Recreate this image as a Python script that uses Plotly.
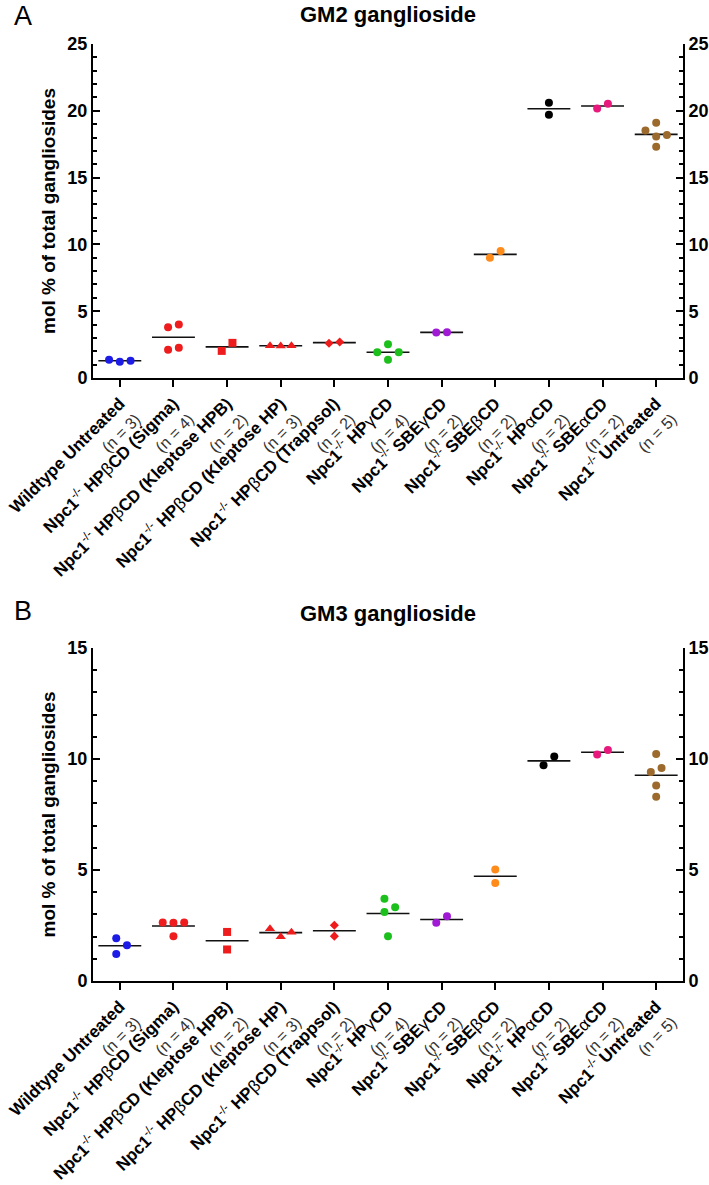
import math
import plotly.graph_objects as go

# ---------------- data ----------------
group_labels = [
    "<b>Wildtype Untreated</b>",
    "<b>Npc1</b><sup>-/-</sup> <b>HP</b>β<b>CD (Sigma)</b>",
    "<b>Npc1</b><sup>-/-</sup> <b>HP</b>β<b>CD (Kleptose HPB)</b>",
    "<b>Npc1</b><sup>-/-</sup> <b>HP</b>β<b>CD (Kleptose HP)</b>",
    "<b>Npc1</b><sup>-/-</sup> <b>HP</b>β<b>CD (Trappsol)</b>",
    "<b>Npc1</b><sup>-/-</sup> <b>HP</b>γ<b>CD</b>",
    "<b>Npc1</b><sup>-/-</sup> <b>SBE</b>γ<b>CD</b>",
    "<b>Npc1</b><sup>-/-</sup> <b>SBE</b>β<b>CD</b>",
    "<b>Npc1</b><sup>-/-</sup> <b>HP</b>α<b>CD</b>",
    "<b>Npc1</b><sup>-/-</sup> <b>SBE</b>α<b>CD</b>",
    "<b>Npc1</b><sup>-/-</sup> <b>Untreated</b>",
]

gm2_values = [
    [1.37, 1.22, 1.30],
    [4.00, 3.80, 2.12, 2.27],
    [2.03, 2.63],
    [2.40, 2.42, 2.42],
    [2.60, 2.70],
    [1.92, 2.52, 1.92, 1.37],
    [3.40, 3.43],
    [9.00, 9.50],
    [20.60, 19.70],
    [20.18, 20.53],
    [19.10, 18.53, 18.18, 18.08, 17.30],
]

gm3_values = [
    [1.93, 1.61, 1.22],
    [2.62, 2.64, 2.63, 2.02],
    [2.21, 1.42],
    [2.35, 1.99, 2.20],
    [2.51, 2.02],
    [3.71, 3.32, 3.11, 2.02],
    [2.62, 2.92],
    [5.02, 4.42],
    [9.72, 10.11],
    [10.20, 10.41],
    [10.22, 9.60, 9.42, 8.81, 8.30],
]

panel_titles = ["GM2 ganglioside", "GM3 ganglioside"]
y_title = "mol % of total gangliosides"
gm2_ticks = [0, 5, 10, 15, 20, 25]
gm3_ticks = [0, 5, 10, 15]

# ---------------- styles ----------------
colors = ["#1c1ce6", "#ee1c1c", "#ee1c1c", "#ee1c1c", "#ee1c1c", "#1cc01c",
          "#a01ad6", "#ff8c1a", "#000000", "#e8197d", "#9c6a2c"]
symbols = ["circle", "circle", "square", "triangle-up", "diamond", "circle",
           "circle", "circle", "circle", "circle", "circle"]
sizes = [8, 8, 8, 9, 7, 8, 8, 8, 8, 8, 8]

W, H = 709, 1185
FONT = "Liberation Sans, Arial, sans-serif"

def px(x):
    return x / W

def py(y):
    return 1 - y / H

# pixel boxes of plot areas
XL, XR = 93, 683
XRANGE = [-0.5, 10.5]
panels = [
    dict(top=44, bottom=378, vals=gm2_values, ymax=25, ticks=gm2_ticks,
         title_y=15, letter="A", letter_y=16),
    dict(top=648, bottom=981, vals=gm3_values, ymax=15, ticks=gm3_ticks,
         title_y=613, letter="B", letter_y=611),
]


def swarm(vals, ppu_y, ppu_x, diam=10.3, step=0.1):
    """Beeswarm offsets (in category units), then centre each cluster."""
    order = sorted(range(len(vals)), key=lambda i: vals[i])
    offs = [0.0] * len(vals)
    placed = []
    cands = [0.0]
    for k in range(1, 12):
        cands += [k * step, -k * step]
    for i in order:
        for c in cands:
            ok = True
            for j in placed:
                dx = (c - offs[j]) * ppu_x
                dy = (vals[i] - vals[j]) * ppu_y
                if math.hypot(dx, dy) < diam:
                    ok = False
                    break
            if ok:
                offs[i] = c
                break
        placed.append(i)
    # clusters: chains of points closer than diam vertically
    clusters = []
    for i in order:
        if clusters and (vals[i] - vals[clusters[-1][-1]]) * ppu_y < diam:
            clusters[-1].append(i)
        else:
            clusters.append([i])
    for cl in clusters:
        m = sum(offs[i] for i in cl) / len(cl)
        for i in cl:
            offs[i] -= m
    return offs


ticktext = []
for lab, v in zip(group_labels, gm2_values):
    ticktext.append(
        lab + "<br><span style='color:#333;font-size:16px'>(n = %d)</span>" % len(v))

fig = go.Figure()
annotations = []
ppu_x = (XR - XL) / (XRANGE[1] - XRANGE[0])

for p_i, p in enumerate(panels):
    xa = "x" if p_i == 0 else "x2"
    ya = "y" if p_i == 0 else "y3"
    ya_top = "y2" if p_i == 0 else "y4"
    ppu_y = (p["bottom"] - p["top"]) / p["ymax"]
    # mean lines
    for g, vals in enumerate(p["vals"]):
        m = sum(vals) / len(vals)
        fig.add_trace(go.Scatter(
            x=[g - 0.4, g + 0.4], y=[m, m], mode="lines",
            line=dict(color="#111111", width=1.6),
            xaxis=xa, yaxis=ya, showlegend=False, hoverinfo="skip"))
    # points (on the right-hand overlay axis so it is drawn and points sit on top)
    for g, vals in enumerate(p["vals"]):
        offs = swarm(vals, ppu_y, ppu_x)
        fig.add_trace(go.Scatter(
            x=[g + o for o in offs], y=vals, mode="markers",
            marker=dict(color=colors[g], symbol=symbols[g], size=sizes[g],
                        line=dict(width=0)),
            xaxis=xa, yaxis=ya_top, showlegend=False))

    annotations.append(dict(
        x=px((XL + XR) / 2), y=py(p["title_y"]), xref="paper", yref="paper",
        text="<b>%s</b>" % panel_titles[p_i], showarrow=False,
        xanchor="center", yanchor="middle",
        font=dict(family=FONT, size=22, color="black")))
    annotations.append(dict(
        x=px(23), y=py(p["letter_y"]), xref="paper", yref="paper",
        text=p["letter"], showarrow=False, xanchor="center", yanchor="middle",
        font=dict(family=FONT, size=27, color="black")))
    annotations.append(dict(
        x=px(48), y=py((p["top"] + p["bottom"]) / 2), xref="paper", yref="paper",
        text="<b>%s</b>" % y_title, showarrow=False, textangle=-90,
        xanchor="center", yanchor="middle",
        font=dict(family=FONT, size=19, color="black")))

xdom = [px(XL), px(XR)]

def xaxis_cfg(anchor):
    return dict(
        domain=xdom, range=XRANGE, anchor=anchor,
        tickmode="array", tickvals=list(range(11)), ticktext=ticktext,
        tickangle=-45, ticks="outside", ticklen=7, tickwidth=2, tickcolor="black",
        ticklabeloverflow="allow",
        showline=True, linewidth=2, linecolor="black", showgrid=False,
        zeroline=False, automargin=False,
        tickfont=dict(family=FONT, size=17, color="black"))

def yaxis_cfg(p, anchor, side, overlay=None):
    d = dict(
        domain=[py(p["bottom"]), py(p["top"])], range=[0, p["ymax"]],
        anchor=anchor, side=side, tickmode="array", tickvals=p["ticks"],
        ticks="inside", ticklen=7, tickwidth=2, tickcolor="black",
        ticklabeloverflow="allow",
        minor=dict(dtick=1, ticks="inside", ticklen=4, tickwidth=1.5,
                   tickcolor="black", showgrid=False),
        showline=True, linewidth=2, linecolor="black", showgrid=False,
        zeroline=False, automargin=False,
        tickfont=dict(family=FONT, size=18, color="black", weight="bold"))
    if overlay:
        d["overlaying"] = overlay
    return d

fig.update_layout(
    width=W, height=H, margin=dict(l=0, r=0, t=0, b=0),
    paper_bgcolor="white", plot_bgcolor="white",
    xaxis=xaxis_cfg("y"),
    xaxis2=xaxis_cfg("y3"),
    yaxis=yaxis_cfg(panels[0], "x", "left"),
    yaxis2=yaxis_cfg(panels[0], "x", "right", overlay="y"),
    yaxis3=yaxis_cfg(panels[1], "x2", "left"),
    yaxis4=yaxis_cfg(panels[1], "x2", "right", overlay="y3"),
    annotations=annotations,
    showlegend=False,
)

fig.write_html(
    "out.html",
    config={"displayModeBar": False},
    post_script="document.body.style.margin='0px';"
                "document.body.style.overflow='hidden';",
)
